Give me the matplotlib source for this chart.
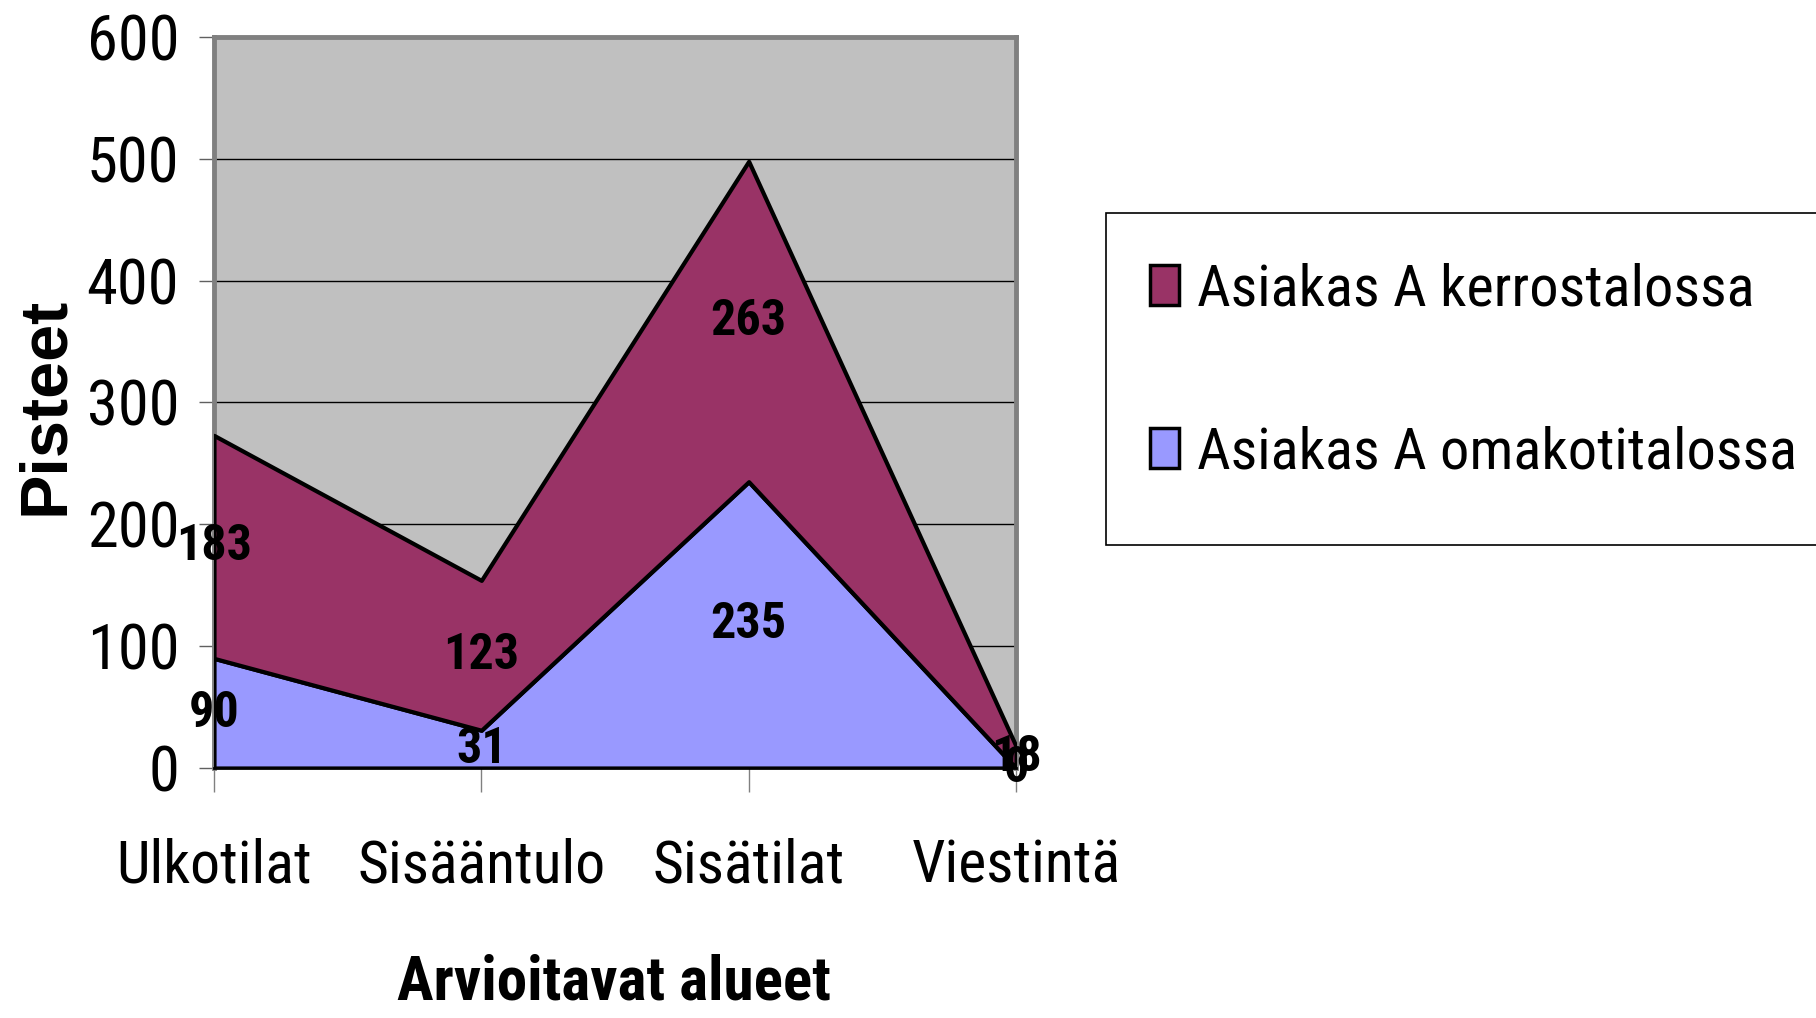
import matplotlib
matplotlib.use("Agg")
import matplotlib.pyplot as plt
from matplotlib import font_manager
from matplotlib.patches import Patch, Rectangle

categories = ["Ulkotilat", "Sisääntulo", "Sisätilat", "Viestintä"]
omakotitalossa = [90, 31, 235, 0]
kerrostalossa = [183, 123, 263, 18]
series_names = ["Asiakas A kerrostalossa", "Asiakas A omakotitalossa"]
y_ticks = [0, 100, 200, 300, 400, 500, 600]

def has_font(name):
    try:
        font_manager.findfont(font_manager.FontProperties(family=name), fallback_to_default=False)
        return True
    except Exception:
        return False

NARROW = "Liberation Sans Narrow"
for cand in ["Liberation Sans Narrow", "Roboto Condensed", "Archivo Narrow", "PT Sans Narrow", "Liberation Sans"]:
    if has_font(cand):
        NARROW = cand
        break
WIDE = "Liberation Sans"

c_blue = "#9999FF"
c_purple = "#993366"
c_bg = "#C0C0C0"

fig = plt.figure(figsize=(18.16, 10.18), dpi=100)
ax = fig.add_axes([214/1816, 250/1018, (1016-214)/1816, (768-37)/1018])
ax.set_facecolor(c_bg)

x = list(range(len(categories)))
ax.stackplot(x, omakotitalossa, kerrostalossa, colors=[c_blue, c_purple],
             edgecolor="black", linewidth=3, zorder=3)

ax.set_xlim(0, len(categories) - 1)
ax.set_ylim(0, 600)
ax.set_yticks(y_ticks)
ax.set_xticks(x)
ax.set_xticklabels(categories, fontfamily=NARROW, fontsize=43)
ax.set_yticklabels([str(v) for v in y_ticks], fontfamily=NARROW, fontsize=45)
ax.tick_params(axis="y", length=11, width=1, color="#606060", pad=14)
ax.tick_params(axis="x", length=17, width=1, color="#808080", pad=33)
ax.yaxis.grid(True, color="black", linewidth=1, zorder=1)
ax.set_axisbelow(True)

for side in ["left", "right", "top"]:
    ax.spines[side].set_color("#808080")
    ax.spines[side].set_linewidth(3.5)
ax.spines["bottom"].set_color("black")
ax.spines["bottom"].set_linewidth(2)

# data labels at segment midpoints
for i in range(len(categories)):
    b = omakotitalossa[i]
    t = kerrostalossa[i]
    ax.text(i, b / 2, str(b), ha="center", va="center", fontsize=36,
            fontweight="bold", fontfamily=NARROW, zorder=5, clip_on=False)
    ax.text(i, b + t / 2, str(t), ha="center", va="center", fontsize=36,
            fontweight="bold", fontfamily=NARROW, zorder=5, clip_on=False)

ax.set_xlabel("Arvioitavat alueet", fontsize=44, fontweight="bold",
              fontfamily=NARROW, va="center")
ax.xaxis.set_label_coords(0.499, -0.293)
ax.set_ylabel("Pisteet", fontsize=48, fontweight="bold", fontfamily=WIDE,
              va="center")
ax.yaxis.set_label_coords(-0.209, 0.495)

# legend box (extends past the right edge of the figure)
fig.patches.append(Rectangle((1106/1816, 1 - 545/1018), 0.5, (545-213)/1018,
                             transform=fig.transFigure, facecolor="white",
                             edgecolor="black", linewidth=1.2, zorder=0))
handles = [Patch(facecolor=c_purple, edgecolor="black", linewidth=2.5),
           Patch(facecolor=c_blue, edgecolor="black", linewidth=2.5)]
leg = fig.legend(handles, series_names, loc="upper left",
                 bbox_to_anchor=(1150/1816, 1 - 262/1018), frameon=False,
                 prop={"family": NARROW, "size": 42},
                 handlelength=0.5, handleheight=0.68, handletextpad=0.3,
                 labelspacing=1.86, borderpad=0, borderaxespad=0)

fig.savefig("out.png", dpi=100)
